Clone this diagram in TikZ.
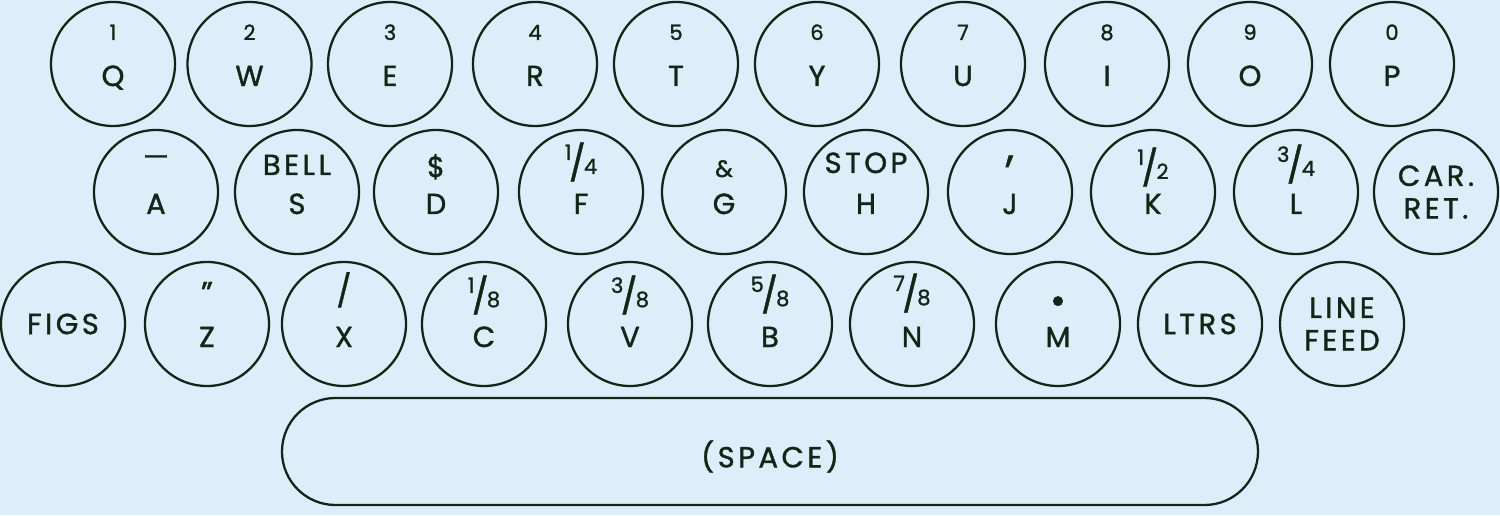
\documentclass[tikz,border=0pt]{standalone}
\usepackage{fontspec}
\setmainfont{Poppins}[LetterSpace=12,FakeBold=1.2]
\usetikzlibrary{shapes.misc}
\definecolor{paper}{RGB}{221,237,249}
\definecolor{ink}{RGB}{18,38,24}
\newcommand\lettersize{\fontsize{16.5}{18.5}\selectfont}
\newcommand\figsize{\fontsize{12}{13}\selectfont}
\newcommand\frc[2]{\raisebox{8pt}{\figsize#1}\kern-1.5pt\raisebox{-1pt}{\fontsize{20}{20}\selectfont/}\kern-1pt{\figsize#2}}
\tikzset{
 keycap/.style={circle,draw=ink,line width=1.3pt,minimum size=2.48cm,inner sep=0pt},
 lower/.style={text=ink,font=\lettersize,anchor=base,inner sep=0pt},
 upper/.style={text=ink,font=\figsize,anchor=base,inner sep=0pt},
 word/.style={text=ink,font=\lettersize,align=center,inner sep=0pt},
 spacebar/.style={rounded rectangle,draw=ink,line width=1.3pt,minimum width=19.52cm,minimum height=2.14cm,inner sep=0pt}
}
\begin{document}
\begin{tikzpicture}
\useasboundingbox (0,0) rectangle (30,10.3);
%paper
\fill[paper](0,0)rectangle(30,10.3);
%top row: figures over letters
\foreach \x/\up/\lo in {2.26/1/Q,4.99/2/W,7.8/3/E,10.7/4/R,13.52/5/T,16.34/6/Y,19.26/7/U,22.14/8/I,25/9/O,27.84/0/P}
{
\node[keycap] (\lo) at (\x,9.02) {};
\node[lower] (\lo-lo) at ([yshift=-.44cm]\lo.center) {\lo};
\node[upper] (\lo-up) at ([yshift=.48cm]\lo.center) {\up};
}
%middle row
\foreach \x/\up/\lo/\s in {3.12/{\lettersize---}/A/.50,5.94/{\lettersize BELL}/S/.34,8.72/{\lettersize\$}/D/.30,11.62/{\frc14}/F/.36,14.48/{\fontsize{13.5}{14}\selectfont\&}/G/.30,17.32/{\lettersize STOP}/H/.38,20.2/{\fontsize{24}{24}\selectfont,}/J/.62,23.06/{\frc12}/K/.26,25.92/{\frc34}/L/.32}
{
\node[keycap] (\lo) at (\x,6.46) {};
\node[lower] (\lo-lo) at ([yshift=-.44cm]\lo.center) {\lo};
\node[upper] (\lo-up) at ([yshift=\s cm]\lo.center) {\up};
}
\node[keycap] (cr) at (28.72,6.46) {};
\node[word] (cr-txt) at (cr.center) {CAR.\\RET.};
%bottom row
\node[keycap] (figs) at (1.26,3.82) {};
\node[word] (figs-txt) at (figs.center) {FIGS};
\foreach \x/\up/\lo/\s in {4.14/{\fontsize{18}{18}\selectfont"}/Z/.40,6.88/{\fontsize{18}{18}\selectfont/}/X/.44,9.68/{\frc18}/C/.34,12.6/{\frc38}/V/.34,15.4/{\frc58}/B/.36,18.24/{\frc78}/N/.38,21.16/{\fontsize{22}{22}\selectfont\textbullet}/M/.2}
{
\node[keycap] (\lo) at (\x,3.82) {};
\node[lower] (\lo-lo) at ([yshift=-.46cm]\lo.center) {\lo};
\node[upper] (\lo-up) at ([yshift=\s cm]\lo.center) {\up};
}
\node[keycap] (ltrs) at (24.0,3.82) {};
\node[word] (ltrs-txt) at (ltrs.center) {LTRS};
\node[keycap] (lf) at (26.84,3.82) {};
\node[word] (lf-txt) at (lf.center) {LINE\\FEED};
%space bar
\node[spacebar] (space) at (15.4,1.27) {};
\node[word] (space-txt) at ([yshift=-.1cm]space.center) {(SPACE)};
\end{tikzpicture}
\end{document}
